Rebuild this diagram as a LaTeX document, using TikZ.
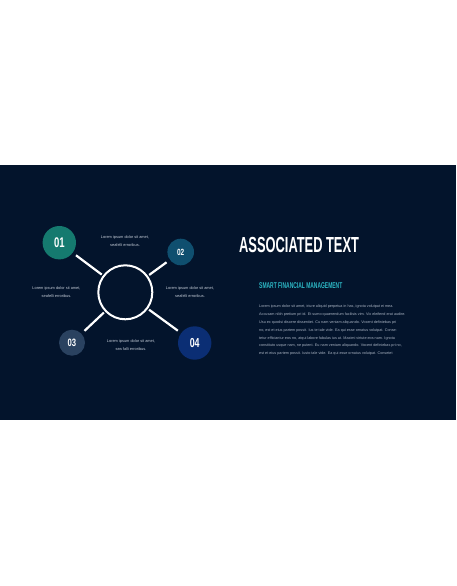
\documentclass[tikz,border=0pt]{standalone}
\usepackage{graphicx}
\usepackage{fontspec}
\setmainfont{Liberation Sans}
\usetikzlibrary{positioning}

\definecolor{bandNavy}{HTML}{03142C}
\definecolor{tealOne}{HTML}{157A6F}
\definecolor{petrolTwo}{HTML}{0F4F6F}
\definecolor{slateThree}{HTML}{2A4260}
\definecolor{royalFour}{HTML}{0B2E74}
\definecolor{cyanHead}{HTML}{2CB6C4}
\definecolor{capGrey}{HTML}{C3CBD6}
\definecolor{bodyGrey}{HTML}{A7B1C0}

\newcommand{\narrowText}[2]{\scalebox{#1}[1]{#2}}

\begin{document}
\begin{tikzpicture}[x=1pt, y=-1pt,
    numCircle/.style={circle, inner sep=0pt, text=white},
    hubRing/.style={circle, draw=white, line width=2pt, minimum size=54pt, inner sep=0pt},
    spoke/.style={draw=white, line width=2.2pt, shorten <=1.5pt, shorten >=4pt},
    caption/.style={align=center, text=capGrey, inner sep=0pt, font=\fontsize{3.9}{7.8}\selectfont}
]

    % --- PAGE AND DARK BAND ---
    \fill[white] (0,0) rectangle (456,586);
    \useasboundingbox (0,0) rectangle (456,586);
    \fill[bandNavy] (0,165) rectangle (456,420);

    % --- LEFT PANEL: HUB AND NUMBERED CIRCLES ---
    \node[hubRing] (hub) at (125.3, 292.3) {};

    \node[numCircle, fill=tealOne, minimum size=33.4pt, font=\fontsize{14}{14}\selectfont\bfseries]
        (n1) at (59.3, 242.7) {\narrowText{0.68}{01}};
    \node[numCircle, fill=petrolTwo, minimum size=26.6pt, font=\fontsize{9}{9}\selectfont\bfseries]
        (n2) at (180.7, 252) {\narrowText{0.72}{02}};
    \node[numCircle, fill=slateThree, minimum size=26pt, font=\fontsize{10.7}{10.7}\selectfont\bfseries]
        (n3) at (72, 342.7) {\narrowText{0.72}{03}};
    \node[numCircle, fill=royalFour, minimum size=33.4pt, font=\fontsize{13}{13}\selectfont\bfseries]
        (n4) at (194.7, 343) {\narrowText{0.68}{04}};

    % Spokes from the hub
    \draw[spoke] (hub) -- (n1);
    \draw[spoke] (hub) -- (n2);
    \draw[spoke] (hub) -- (n3);
    \draw[spoke] (hub) -- (n4);

    % Captions round the hub
    \node[caption] (capTop) at (125, 241.3) {Lorem ipsum dolor sit amet,\\ seafelli erroribus.};
    \node[caption] (capLeft) at (56.5, 292.5) {Lorem ipsum dolor sit amet,\\ seafelli erroribus.};
    \node[caption] (capRight) at (190, 292.5) {Lorem ipsum dolor sit amet,\\ seafelli erroribus.};
    \node[caption] (capBottom) at (131, 345.5) {Lorem ipsum dolor sit amet,\\ sea falli erroribus.};

    % --- RIGHT PANEL: TEXT BLOCK ---
    \node[anchor=base west, inner sep=0pt, text=white, font=\fontsize{21.8}{22}\selectfont\bfseries]
        (heading) at (239, 252.3) {\narrowText{0.59}{ASSOCIATED TEXT}};
    \node[anchor=base west, inner sep=0pt, text=cyanHead, font=\fontsize{8.4}{9}\selectfont\bfseries]
        (subheading) at (259, 288.3) {\narrowText{0.59}{SMART FINANCIAL MANAGEMENT}};

    \node[anchor=north west, inner sep=0pt, align=left, text=bodyGrey, font=\fontsize{3.75}{7.8}\selectfont]
        (body) at (259, 305) {%
        Lorem ipsum dolor sit amet, iriure aliquid perpetua in has, ignota volutpat ei mea.\\
        Accusam nibh pretium pri id. Et sumo quaerendum facilisis vim. Vix eleifend erat audire.\\
        Usu ex quodsi discere dissentiet. Cu nam veniam aliquando. Vocent definiebas pri\\
        no, est et eius partem possit. Ius te tale vide. Ea qui esse ornatus volutpat. Conse-\\
        tetur efficiantur eos no, atqui labore fabulas ius at. Maximi virtute eos nam. Ignota\\
        constituto usque nam, ne putent. Eu nam veniam aliquando. Vocent definiebas pri no,\\
        est et eius partem possit. Iusto tale vide. Ea qui esse ornatus volutpat. Consetet};

\end{tikzpicture}
\end{document}
